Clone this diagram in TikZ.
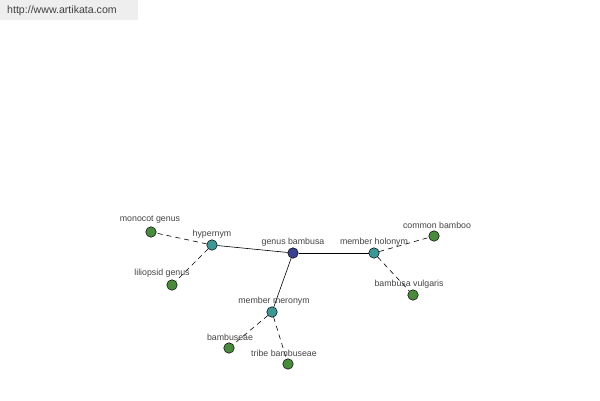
\documentclass[tikz,border=0pt]{standalone}
\usepackage{fontspec}
\setmainfont{Liberation Sans}
\begin{document}
\begin{tikzpicture}[x=1pt,y=-1pt,
  dot/.style={circle,draw=black,line width=0.5pt,minimum size=10.5pt,inner sep=0pt},
  root/.style={dot,fill=rootc},
  mid/.style={dot,fill=midc},
  leaf/.style={dot,fill=leafc},
  lbl/.style={font=\fontsize{8.8}{10}\selectfont,text=txt,inner sep=0pt},
  solidedge/.style={draw=black,line width=0.6pt},
  dashedge/.style={draw=black,line width=0.6pt,dashed,dash pattern=on 5pt off 4pt}]
\definecolor{rootc}{HTML}{3B3F8F}
\definecolor{midc}{HTML}{3E9696}
\definecolor{leafc}{HTML}{4A8A3E}
\definecolor{txt}{HTML}{444444}
\definecolor{hdr}{HTML}{EEEEEE}
\useasboundingbox (0,0) rectangle (600,400);
\fill[white] (0,0) rectangle (600,400);
\fill[hdr] (0,0) rectangle (138,20);
\node[anchor=west,inner sep=0pt,font=\fontsize{10.6}{12}\selectfont,text=black!75] (hd) at (7,11) {http://www.artikata.com};

\node[root] (gb) at (293,253) {};
\node[mid] (hy) at (212,245) {};
\node[mid] (mh) at (374,253) {};
\node[mid] (mm) at (272,312) {};
\node[leaf] (mg) at (151,232) {};
\node[leaf] (lg) at (172,285) {};
\node[leaf] (cb) at (434,236) {};
\node[leaf] (bv) at (413,295) {};
\node[leaf] (bs) at (229,348) {};
\node[leaf] (tb) at (288,364) {};

\path[solidedge] (gb) -- (hy);
\path[solidedge] (gb) -- (mh);
\path[solidedge] (gb) -- (mm);
\path[dashedge] (hy) -- (mg);
\path[dashedge] (hy) -- (lg);
\path[dashedge] (mh) -- (cb);
\path[dashedge] (mh) -- (bv);
\path[dashedge] (mm) -- (bs);
\path[dashedge] (mm) -- (tb);

\node[lbl] (lgb) at (293,242) {genus bambusa};
\node[lbl] (lhy) at (212,234) {hypernym};
\node[lbl] (lmh) at (374,242) {member holonym};
\node[lbl] (lmm) at (274,301) {member meronym};
\node[lbl] (lmg) at (150,220) {monocot genus};
\node[lbl] (llg) at (162,273) {liliopsid genus};
\node[lbl] (lcb) at (437,225) {common bamboo};
\node[lbl] (lbv) at (409,284) {bambusa vulgaris};
\node[lbl] (lbs) at (230,337) {bambuseae};
\node[lbl] (ltb) at (284,353) {tribe bambuseae};
\end{tikzpicture}
\end{document}
